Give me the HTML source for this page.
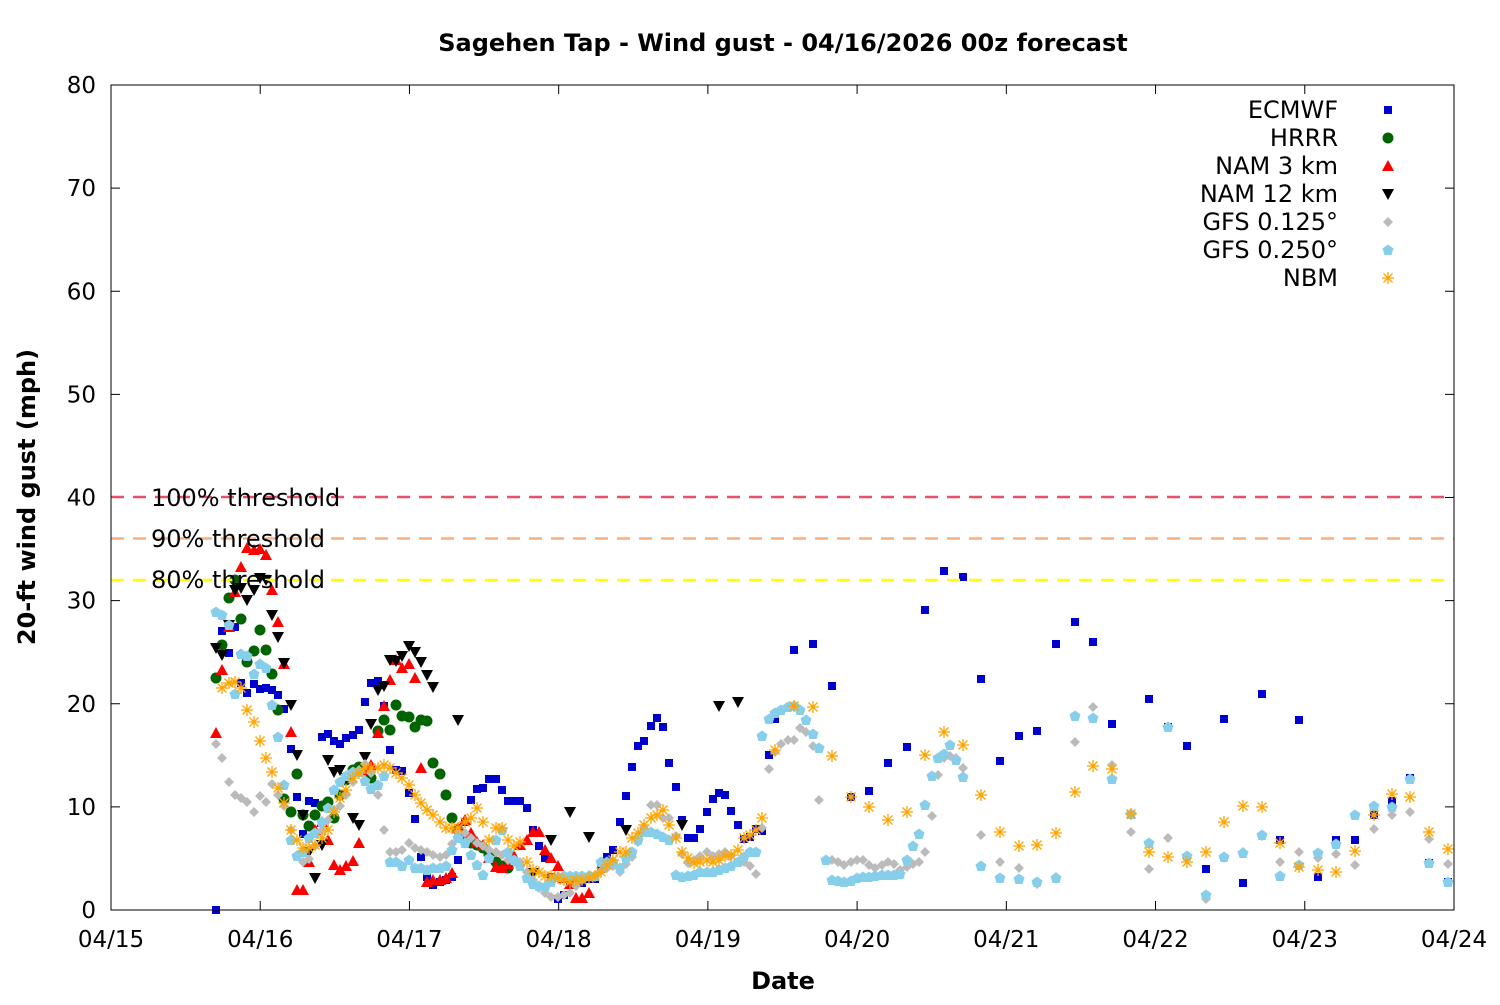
<!DOCTYPE html>
<html><head><meta charset="utf-8"><style>
body{margin:0;background:#fff}
svg text{font-family:"DejaVu Sans","Liberation Sans",sans-serif}
</style></head><body>
<svg id="s" width="1500" height="1000" xmlns="http://www.w3.org/2000/svg">
<rect width="1500" height="1000" fill="#fff"/>
<g id="grid"></g>
<g id="pts"></g>
<g id="thr">
<line x1="111" x2="1454" y1="497" y2="497" stroke="#e8506e" stroke-width="2.5" stroke-dasharray="13,9"/>
<line x1="111" x2="1454" y1="538.5" y2="538.5" stroke="#f4b080" stroke-width="2.5" stroke-dasharray="13,9"/>
<line x1="111" x2="1454" y1="580" y2="580" stroke="#ffff00" stroke-width="2.5" stroke-dasharray="13,9"/>
<text x="151" y="506" font-size="24">100% threshold</text>
<text x="151" y="547" font-size="24">90% threshold</text>
<text x="151" y="588" font-size="24">80% threshold</text>
</g>
<rect x="111" y="85" width="1343" height="825" fill="none" stroke="#000" stroke-width="1"/>
<text x="783" y="51" font-size="24" font-weight="bold" text-anchor="middle">Sagehen Tap - Wind gust - 04/16/2026 00z forecast</text>
<text x="783" y="989" font-size="24" font-weight="bold" text-anchor="middle">Date</text>
<text transform="translate(35,497) rotate(-90)" font-size="24" font-weight="bold" text-anchor="middle">20-ft wind gust (mph)</text>
<g id="leg" font-size="24" text-anchor="end"></g>
</svg>
<script>
const NS="http://www.w3.org/2000/svg";
function el(p,t,a){const e=document.createElementNS(NS,t);for(const k in a)e.setAttribute(k,a[k]);p.appendChild(e);return e;}
const g=document.getElementById('grid');
for(let i=0;i<=8;i++){const y=910-i*103.125;
 el(g,'line',{x1:111,x2:120,y1:y,y2:y,stroke:'#000'});el(g,'line',{x1:1445,x2:1454,y1:y,y2:y,stroke:'#000'});
 const t=el(g,'text',{x:96,y:y+8,'font-size':23,'text-anchor':'end'});t.textContent=(i*10);}
for(let i=0;i<=9;i++){const x=111+i*149.22;
 el(g,'line',{x1:x,x2:x,y1:910,y2:901,stroke:'#000'});el(g,'line',{x1:x,x2:x,y1:85,y2:94,stroke:'#000'});
 const t=el(g,'text',{x:x,y:947,'font-size':23,'text-anchor':'middle'});t.textContent='04/'+(15+i);}
function P(s){return s.match(/-?\d+/g).map(Number).reduce((a,v,i)=>{if(i%2==0)a.push([v]);else a[a.length-1].push(v);return a;},[]);}
const S={
ec:"(216,910),(222,631),(229,653),(235,627),(241,683),(247,693),(254,684),(260,689),(266,688),(272,690),(278,695),(284,709),(291,749),(297,797),(303,834),(309,801),(315,803),(322,737),(328,734),(334,741),(340,744),(346,738),(353,735),(359,730),(365,702),(371,683),(378,681),(384,706),(390,750),(396,770),(402,771),(409,793),(415,819),(421,857),(427,877),(433,885),(440,882),(446,880),(452,877),(458,860),(465,822),(471,800),(477,789),(483,788),(489,779),(496,779),(502,790),(508,801),(514,801),(520,801),(527,808),(533,830),(539,846),(545,858),(551,877),(558,899),(564,895),(570,885),(576,877),(582,883),(589,879),(595,879),(601,869),(607,857),(613,850),(620,822),(626,796),(632,767),(638,746),(644,741),(651,726),(657,718),(663,727),(669,763),(676,787),(682,820),(688,838),(694,838),(700,829),(707,812),(713,799),(719,793),(725,795),(731,811),(738,825),(744,839),(750,837),(756,829),(762,831),(769,755),(775,719),(794,650),(813,644),(832,686),(851,797),(869,791),(888,763),(907,747),(925,610),(944,571),(963,577),(981,679),(1000,761),(1019,736),(1037,731),(1056,644),(1075,622),(1093,642),(1112,724),(1131,815),(1149,699),(1168,727),(1187,746),(1206,869),(1224,719),(1243,883),(1262,694),(1280,840),(1299,720),(1318,877),(1336,840),(1355,840),(1374,815),(1392,801),(1410,778),(1429,863),(1448,882)",
hr:"(216,678),(222,645),(229,598),(235,580),(241,619),(247,662),(254,651),(260,630),(266,650),(272,674),(278,710),(284,799),(291,812),(297,774),(303,815),(309,826),(315,815),(322,806),(328,802),(334,818),(340,795),(346,780),(353,770),(359,767),(365,770),(371,778),(378,731),(384,720),(390,730),(396,705),(402,716),(409,717),(415,727),(421,720),(427,721),(433,763),(440,774),(446,795),(452,818),(458,830),(465,838),(471,843),(477,845),(483,848),(489,855),(496,862),(502,866),(508,868)",
n3:"(216,733),(222,670),(229,627),(235,592),(241,567),(247,548),(254,550),(260,549),(266,555),(272,590),(278,622),(284,664),(291,732),(297,890),(303,890),(309,862),(315,830),(322,822),(328,840),(334,865),(340,870),(346,866),(353,861),(359,843),(365,770),(371,765),(378,733),(384,706),(390,680),(396,660),(402,668),(409,664),(415,678),(421,768),(427,882),(433,880),(440,880),(446,878),(452,873),(458,828),(465,820),(471,833),(477,842),(483,845),(489,858),(496,867),(502,868),(508,864),(514,856),(520,845),(527,840),(533,832),(539,832),(545,850),(551,858),(558,866),(564,878),(570,884),(576,898),(582,898),(589,893)",
n12:"(216,648),(222,655),(229,625),(235,590),(241,588),(247,600),(254,590),(260,578),(266,580),(272,615),(278,637),(284,663),(291,705),(297,755),(303,815),(309,852),(315,878),(322,845),(328,760),(334,772),(340,770),(346,778),(353,818),(359,825),(365,757),(371,724),(378,690),(384,686),(390,660),(396,661),(402,656),(409,646),(415,652),(421,662),(427,675),(433,687),(458,720),(533,873),(551,840),(570,812),(589,837),(626,830),(682,825),(719,706),(738,702)",
g1:"(216,744),(222,758),(229,782),(235,795),(241,798),(247,802),(254,812),(260,796),(266,802),(272,784),(278,795),(284,806),(291,830),(297,855),(303,862),(309,859),(315,846),(322,830),(328,820),(334,810),(340,806),(346,795),(353,782),(359,770),(365,764),(371,773),(378,795),(384,830),(390,852),(396,852),(402,850),(409,843),(415,848),(421,850),(427,852),(433,855),(440,857),(446,855),(452,844),(458,832),(465,833),(471,838),(477,843),(483,846),(489,850),(496,852),(502,855),(508,860),(514,862),(520,862),(527,872),(533,880),(539,888),(545,893),(551,897),(558,897),(564,895),(570,893),(576,886),(582,880),(589,875),(595,876),(601,871),(607,868),(613,866),(620,872),(626,864),(632,857),(638,842),(644,827),(651,805),(657,805),(663,818),(669,818),(676,836),(682,854),(688,863),(694,860),(700,856),(707,852),(713,856),(719,854),(725,852),(731,856),(738,862),(744,862),(750,866),(756,874),(762,828),(769,769),(775,752),(781,744),(788,740),(794,740),(800,728),(806,732),(813,746),(819,800),(826,860),(832,860),(838,862),(844,865),(851,862),(857,860),(863,860),(869,865),(875,868),(882,865),(888,862),(894,864),(900,870),(907,867),(913,864),(919,862),(925,852),(932,816),(938,775),(944,758),(950,756),(956,758),(963,768),(981,835),(1000,862),(1019,868),(1037,884),(1056,877),(1075,742),(1093,707),(1112,765),(1131,832),(1149,869),(1168,838),(1187,858),(1206,899),(1224,858),(1243,852),(1262,836),(1280,862),(1299,852),(1318,858),(1336,854),(1355,865),(1374,829),(1392,815),(1410,812),(1429,839),(1448,864)",
g2:"(216,612),(222,615),(229,625),(235,694),(241,654),(247,656),(254,674),(260,664),(266,668),(272,705),(278,737),(284,785),(291,840),(297,856),(303,852),(309,838),(315,833),(322,822),(328,808),(334,790),(340,782),(346,776),(353,772),(359,772),(365,781),(371,789),(378,785),(384,776),(390,862),(396,862),(402,866),(409,860),(415,868),(421,868),(427,870),(433,868),(440,868),(446,866),(452,850),(458,838),(465,843),(471,855),(477,865),(483,875),(489,858),(496,840),(502,830),(508,852),(514,860),(520,866),(527,878),(533,884),(539,886),(545,887),(551,882),(558,877),(564,876),(570,876),(576,876),(582,876),(589,876),(595,876),(601,862),(607,862),(613,862),(620,868),(626,858),(632,852),(638,840),(644,832),(651,832),(657,834),(663,837),(669,840),(676,875),(682,877),(688,876),(694,875),(700,872),(707,872),(713,872),(719,870),(725,868),(731,866),(738,862),(744,857),(750,852),(756,852),(762,736),(769,719),(775,713),(781,710),(788,707),(794,706),(800,710),(806,720),(813,734),(819,748),(826,860),(832,880),(838,881),(844,882),(851,881),(857,878),(863,877),(869,877),(875,876),(882,875),(888,875),(894,875),(900,874),(907,860),(913,846),(919,834),(925,805),(932,776),(938,758),(944,754),(950,745),(956,760),(963,777),(981,866),(1000,878),(1019,879),(1037,882),(1056,878),(1075,716),(1093,718),(1112,779),(1131,814),(1149,843),(1168,727),(1187,856),(1206,895),(1224,857),(1243,853),(1262,835),(1280,876),(1299,865),(1318,853),(1336,844),(1355,815),(1374,806),(1392,807),(1410,779),(1429,863),(1448,882)",
nb:"(222,688),(229,683),(235,682),(241,688),(247,710),(254,722),(260,741),(266,758),(272,772),(278,788),(284,803),(291,830),(297,840),(303,848),(309,848),(315,845),(322,838),(328,830),(334,812),(340,798),(346,790),(353,778),(359,773),(365,768),(371,768),(378,768),(384,765),(390,768),(396,773),(402,778),(409,785),(415,795),(421,803),(427,810),(433,815),(440,822),(446,828),(452,828),(458,828),(465,822),(471,818),(477,808),(483,822),(489,840),(496,828),(502,828),(508,840),(514,846),(520,842),(527,862),(533,870),(539,872),(545,876),(551,876),(558,878),(564,880),(570,882),(576,880),(582,880),(589,878),(595,876),(601,872),(607,865),(613,860),(620,852),(626,852),(632,838),(638,833),(644,825),(651,818),(657,815),(663,810),(669,825),(676,838),(682,852),(688,858),(694,863),(700,862),(707,860),(713,862),(719,860),(725,856),(731,855),(738,850),(744,838),(750,835),(756,830),(762,818),(775,750),(794,706),(813,707),(832,756),(851,797),(869,807),(888,820),(907,812),(925,755),(944,732),(963,745),(981,795),(1000,832),(1019,846),(1037,845),(1056,833),(1075,792),(1093,766),(1112,769),(1131,814),(1149,852),(1168,857),(1187,862),(1206,852),(1224,822),(1243,806),(1262,807),(1280,843),(1299,867),(1318,870),(1336,872),(1355,851),(1374,815),(1392,794),(1410,797),(1429,832),(1448,849)"};
const D={
ec:(p,x,y)=>el(p,'rect',{x:x-4,y:y-4,width:8,height:8,fill:'#0000cc'}),
hr:(p,x,y)=>el(p,'circle',{cx:x,cy:y,r:5.5,fill:'#006400'}),
n3:(p,x,y)=>el(p,'polygon',{points:`${x},${y-6} ${x+6},${y+5} ${x-6},${y+5}`,fill:'#ff0000'}),
n12:(p,x,y)=>el(p,'polygon',{points:`${x},${y+6} ${x+6},${y-5} ${x-6},${y-5}`,fill:'#000'}),
g1:(p,x,y)=>el(p,'polygon',{points:`${x},${y-5} ${x+5},${y} ${x},${y+5} ${x-5},${y}`,fill:'#bbbbbb'}),
g2:(p,x,y)=>el(p,'polygon',{points:`${x},${y-5.5} ${x+5.5},${y-1.5} ${x+3.5},${y+5} ${x-3.5},${y+5} ${x-5.5},${y-1.5}`,fill:'#87ceeb'}),
nb:(p,x,y)=>el(p,'path',{d:`M${x-6},${y}H${x+6}M${x},${y-6}V${y+6}M${x-4.5},${y-4.5}L${x+4.5},${y+4.5}M${x-4.5},${y+4.5}L${x+4.5},${y-4.5}`,stroke:'#ffa500','stroke-width':1.3,fill:'none'})};
const pts=document.getElementById('pts'),leg=document.getElementById('leg');
const names={ec:'ECMWF',hr:'HRRR',n3:'NAM 3 km',n12:'NAM 12 km',g1:'GFS 0.125°',g2:'GFS 0.250°',nb:'NBM'};
let i=0;
for(const k in S){P(S[k]).forEach(([x,y])=>D[k](pts,x,y));
 const y=110+i*28;const t=el(leg,'text',{x:1338,y:y+8});t.textContent=names[k];D[k](leg,1388,y);i++;}
</script>
</body></html>
